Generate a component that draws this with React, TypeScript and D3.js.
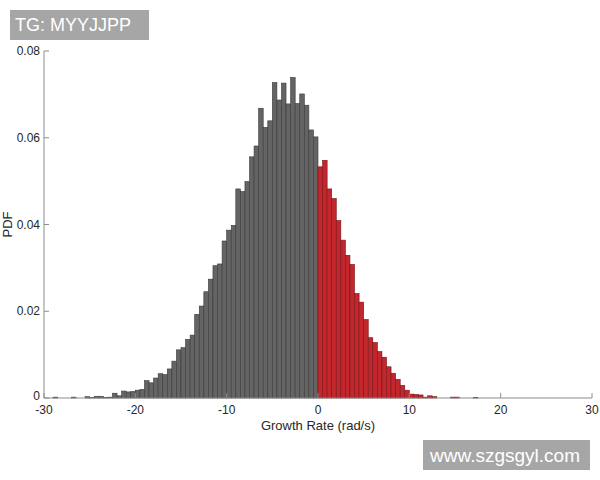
import React from "react";
import * as d3 from "d3";

const binStart = -30;
const binWidth = 0.5;
// PDF values of the negative growth-rate bins, from -30 to 0
const negativePDF = [
  0, 0, 0.0002, 0, 0, 0, 0.0002, 0, 0, 0.0003,
  0.0001, 0.0004, 0.0004, 0.0001, 0.0002, 0.0011, 0.0005, 0.0016, 0.0014, 0.0015,
  0.0018, 0.002, 0.004, 0.0035, 0.0046, 0.0056, 0.0054, 0.0067, 0.0085, 0.0111,
  0.0116, 0.0135, 0.0145, 0.0193, 0.0212, 0.0245, 0.0274, 0.0305, 0.0309, 0.0362,
  0.0387, 0.0398, 0.0482, 0.0476, 0.0499, 0.0556, 0.0581, 0.0668, 0.0624, 0.0639,
  0.0727, 0.0687, 0.0726, 0.0678, 0.0739, 0.0679, 0.0701, 0.0675, 0.0618, 0.0602,
];
// PDF values of the positive growth-rate bins, from 0 upward
const positivePDF = [
  0.0533, 0.0548, 0.0482, 0.046, 0.0409, 0.0364, 0.0329, 0.0308, 0.0241, 0.0221,
  0.0181, 0.0139, 0.0128, 0.0107, 0.0094, 0.0072, 0.0057, 0.0043, 0.0029, 0.0018,
  0.0009, 0.0008, 0.0007, 0.0002, 0.0005, 0.0003, 0, 0, 0, 0.0002,
  0.0002, 0, 0, 0, 0.0001,
];
const xTicks = [-30, -20, -10, 0, 10, 20, 30];
const yTicks = [0, 0.02, 0.04, 0.06, 0.08];
const xLabel = "Growth Rate (rad/s)";
const yLabel = "PDF";
const topMark = "TG: MYYJJPP";
const bottomMark = "www.szgsgyl.com";

export default function App() {
  const W = 600, H = 480;
  const left = 44, right = 592, top = 51, bottom = 398;
  const x = d3.scaleLinear().domain([-30, 30]).range([left, right]);
  const y = d3.scaleLinear().domain([0, 0.08]).range([bottom, top]);
  const font = "'Liberation Sans', Arial, Helvetica, sans-serif";
  const axisColor = "#8c8c8c";
  const textColor = "#262626";

  const negBars = negativePDF.map((v, i) => ({ x0: binStart + i * binWidth, v }));
  const posBars = positivePDF.map((v, i) => ({ x0: 0 + i * binWidth, v }));

  const renderBars = (bars: { x0: number; v: number }[], fill: string, stroke: string, key: string) =>
    bars
      .filter((b) => b.v > 0)
      .map((b, i) => {
        const x0 = x(b.x0);
        const x1 = x(b.x0 + binWidth);
        const yt = y(b.v);
        return (
          <rect
            key={key + i}
            x={x0}
            y={yt}
            width={x1 - x0}
            height={bottom - yt}
            fill={fill}
            stroke={stroke}
            strokeWidth={0.6}
          />
        );
      });

  return (
    <svg
      width={W}
      height={H}
      style={{ position: "fixed", left: 0, top: 0, background: "#fff" }}
      fontFamily={font}
    >
      <rect x={0} y={0} width={W} height={H} fill="#fff" />
      {renderBars(negBars, "#646464", "#3a3a3a", "n")}
      {renderBars(posBars, "#c1272d", "#7a1518", "p")}

      {/* axes */}
      <line x1={left} x2={left} y1={top} y2={bottom} stroke={axisColor} strokeWidth={1} />
      <line x1={left} x2={right} y1={bottom} y2={bottom} stroke={axisColor} strokeWidth={1} />
      {yTicks.map((t) => (
        <g key={"y" + t}>
          <line x1={left} x2={left + 5} y1={y(t)} y2={y(t)} stroke={axisColor} />
          <text
            x={left - 4}
            y={t === 0 ? y(t) - 2 : y(t)}
            textAnchor="end"
            dominantBaseline="central"
            fontSize={12}
            fill={textColor}
          >
            {t === 0 ? "0" : t.toFixed(2)}
          </text>
        </g>
      ))}
      {xTicks.map((t) => (
        <g key={"x" + t}>
          <line x1={x(t)} x2={x(t)} y1={bottom} y2={bottom - 5} stroke={axisColor} />
          <text x={x(t)} y={bottom + 16} textAnchor="middle" fontSize={12} fill={textColor}>
            {t}
          </text>
        </g>
      ))}
      <text x={(left + right) / 2} y={bottom + 32} textAnchor="middle" fontSize={13} fill={textColor}>
        {xLabel}
      </text>
      <text
        transform={`translate(12, ${(top + bottom) / 2}) rotate(-90)`}
        textAnchor="middle"
        fontSize={13}
        fill={textColor}
      >
        {yLabel}
      </text>

      {/* watermarks */}
      <rect x={10} y={10} width={139} height={30} fill="#a6a6a6" />
      <text x={15} y={31} fontSize={18} fill="#fff">
        {topMark}
      </text>
      <rect x={423} y={440} width={167} height={30} fill="#a6a6a6" />
      <text x={505} y={462} textAnchor="middle" fontSize={19} fill="#fff">
        {bottomMark}
      </text>
    </svg>
  );
}
